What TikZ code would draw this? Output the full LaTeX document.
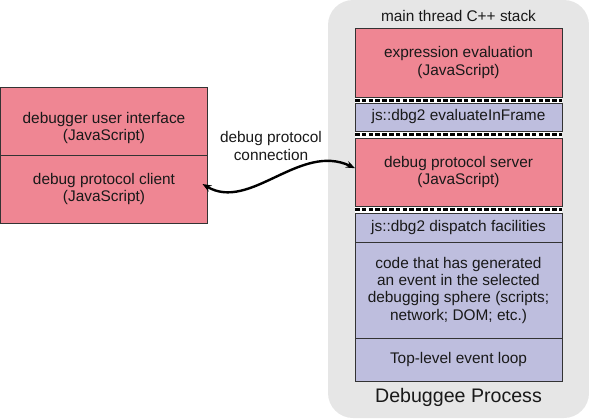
\documentclass[tikz,border=0pt]{standalone}
\usepackage{fontspec}
\setmainfont{Liberation Sans}
\usepackage{xcolor}
\usetikzlibrary{arrows.meta}
\usetikzlibrary{positioning}
\definecolor{jspink}{HTML}{EF8693}
\definecolor{cpplav}{HTML}{BEBEDE}
\definecolor{procgrey}{HTML}{E6E6E6}

\begin{document}
\begin{tikzpicture}[x=1pt,y=-1pt,
	box/.style={draw=black!80, line width=0.8pt, minimum width=207pt, inner sep=0pt, outer sep=0pt, align=center, text=black!90, font=\fontsize{15.4}{17.2}\selectfont},
	jsbox/.style={box, fill=jspink},
	cppbox/.style={box, fill=cpplav},
	framesep/.style={line width=2.6pt, dash pattern=on 4.5pt off 2.3pt},
	caption/.style={align=center, text=black!90, font=\fontsize{15.4}{17.2}\selectfont}]
				\useasboundingbox (0,0) rectangle (589,418);
				
				% debuggee process
				\fill[procgrey, rounded corners=25pt] (328,0) rectangle (589,418);
				\fill[white] (355,28) rectangle (562,382);
				\node[caption] (stacklabel) at (458.5,16) {main thread C++ stack};
				\node[caption, font=\fontsize{19.6}{22}\selectfont] (proclabel) at (458.5,397) {Debuggee Process};
				
				% stack frames
				\node[jsbox, minimum height=69pt] (expr) at (458.5,62.5) {expression evaluation\\(JavaScript)};
				\node[cppbox, minimum height=28pt] (evalf) at (458.5,117) {js::dbg2 evaluateInFrame};
				\node[jsbox, minimum height=68pt] (server) at (458.5,172.2) {debug protocol server\\(JavaScript)};
				\node[cppbox, minimum height=29pt] (dispatch) at (458.5,227.5) {js::dbg2 dispatch facilities};
				\node[cppbox, minimum height=96.5pt, below=0pt of dispatch] (code) {code that has generated\\an event in the selected\\debugging sphere (scripts;\\network; DOM; etc.)};
				\node[cppbox, minimum height=43pt, below=0pt of code] (loop) {Top-level event loop};
				
				% dashed breaks
				\draw[framesep] ([yshift=-3.2pt]expr.south west) -- ([yshift=-3.2pt]expr.south east);
				\draw[framesep] ([yshift=-3.3pt]evalf.south west) -- ([yshift=-3.3pt]evalf.south east);
				\draw[framesep] ([yshift=-3.3pt]server.south west) -- ([yshift=-3.3pt]server.south east);
				
				% debugger
				\node[jsbox, minimum height=68pt, label={[caption, yshift=-7pt]center:debugger user interface\\(JavaScript)}] (ui) at (104,121) {};
				\node[jsbox, minimum height=68pt, below=0pt of ui] (client) {debug protocol client\\(JavaScript)};
				
				% connection
				\node[caption] (connlabel) at (271,146) {debug protocol\\connection};
				\draw[{Stealth[length=9pt,width=7pt]}-{Stealth[length=9pt,width=7pt]}, line width=2.4pt] ([shift={(-5pt,5pt)}]client.east) .. controls (250,212) and (300,142) .. ([yshift=4pt]server.west);
			\end{tikzpicture}
\end{document}
